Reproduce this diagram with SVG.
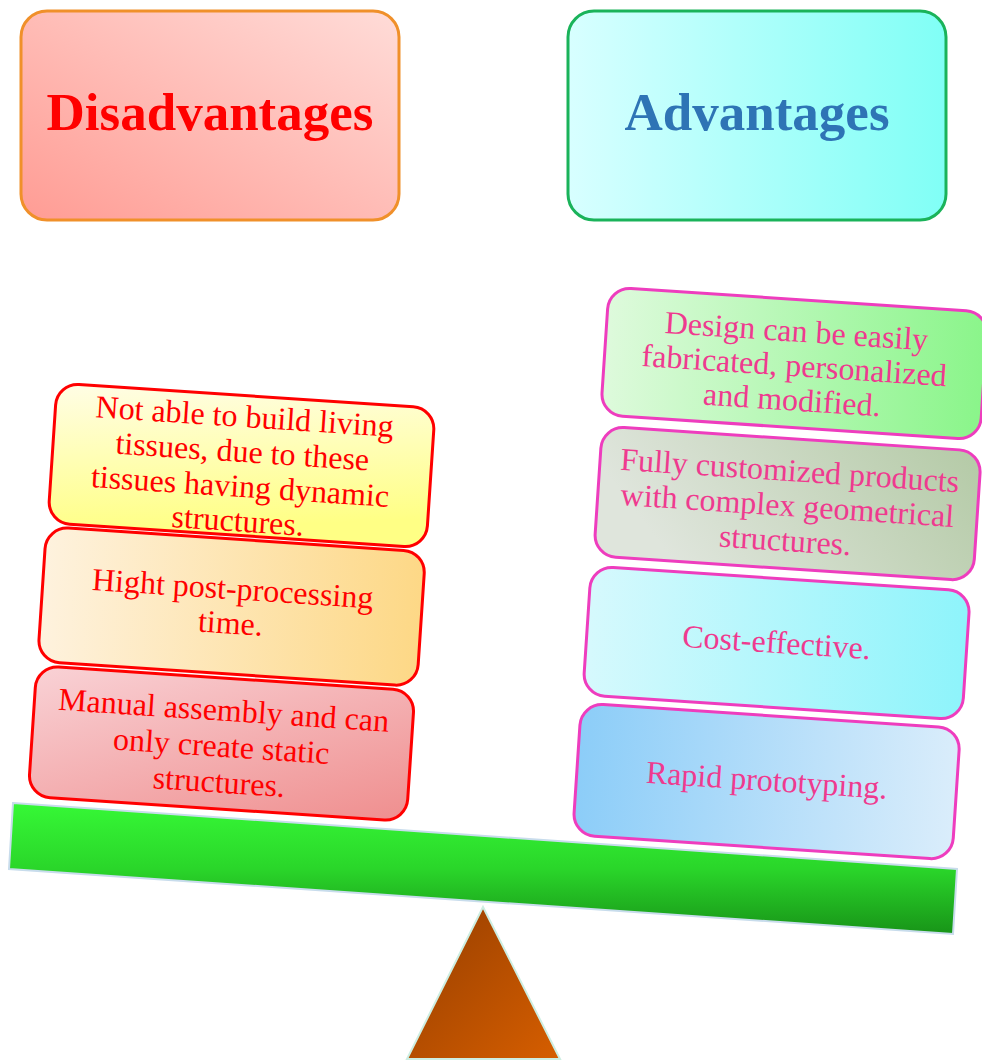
<svg xmlns="http://www.w3.org/2000/svg" width="982" height="1063" viewBox="0 0 982 1063">
<defs>
<linearGradient id="gDis" x1="0" y1="1" x2="1" y2="0"><stop offset="0" stop-color="#ff9c94"/><stop offset="1" stop-color="#ffdcd8"/></linearGradient>
<linearGradient id="gAdv" x1="0" y1="0" x2="1" y2="0"><stop offset="0" stop-color="#d8ffff"/><stop offset="1" stop-color="#80fff6"/></linearGradient>
<linearGradient id="g1" x1="0" y1="0" x2="0.3" y2="1"><stop offset="0" stop-color="#fffde6"/><stop offset="1" stop-color="#ffff85"/></linearGradient>
<linearGradient id="g2" x1="0" y1="0" x2="1" y2="0"><stop offset="0" stop-color="#fef2de"/><stop offset="1" stop-color="#fdd886"/></linearGradient>
<linearGradient id="g3" x1="0" y1="0" x2="1" y2="1"><stop offset="0" stop-color="#f9d2d6"/><stop offset="1" stop-color="#ef8e8e"/></linearGradient>
<linearGradient id="gA" x1="0" y1="0" x2="1" y2="0"><stop offset="0" stop-color="#defadc"/><stop offset="1" stop-color="#8af58a"/></linearGradient>
<linearGradient id="gB" x1="0" y1="0.3" x2="1" y2="0"><stop offset="0" stop-color="#dfe5dc"/><stop offset="1" stop-color="#b4caa6"/></linearGradient>
<linearGradient id="gC" x1="0" y1="0" x2="1" y2="0"><stop offset="0" stop-color="#d6f9fd"/><stop offset="1" stop-color="#8ef4fb"/></linearGradient>
<linearGradient id="gD" x1="0" y1="0" x2="1" y2="0"><stop offset="0" stop-color="#8ccdf8"/><stop offset="1" stop-color="#daedfb"/></linearGradient>
<linearGradient id="gBeam" gradientUnits="userSpaceOnUse" x1="0" y1="803" x2="0" y2="934"><stop offset="0" stop-color="#36f836"/><stop offset="0.5" stop-color="#2ad62a"/><stop offset="1" stop-color="#189418"/></linearGradient>
<linearGradient id="gTri" x1="0" y1="0" x2="1" y2="1"><stop offset="0" stop-color="#953e00"/><stop offset="1" stop-color="#d65e00"/></linearGradient>
<style>
.title{font-family:"Liberation Serif","Times New Roman",serif;font-weight:bold;font-size:53px;text-anchor:middle}
.lt{font-family:"Liberation Serif","Times New Roman",serif;font-size:32px;text-anchor:middle;fill:#ff0000}
.rt{font-family:"Liberation Serif","Times New Roman",serif;font-size:32px;text-anchor:middle;fill:#ef3a8f}
.lb{stroke:#ff0000;stroke-width:3}
.rb{stroke:#ee3dbe;stroke-width:3}
</style>
</defs>
<rect width="982" height="1063" fill="#ffffff"/>

<g id="beam">
<polygon points="13,803 957,869 953,934 9,869" fill="url(#gBeam)" stroke="#c8dcec" stroke-width="2"/>
</g>
<g id="fulcrum">
<polygon points="483,907 560,1059 407,1059" fill="url(#gTri)" stroke="#cdeee2" stroke-width="2"/>
</g>

<g id="disadvantages">
<rect x="21" y="11" width="378" height="209" rx="26" fill="url(#gDis)" stroke="#f0902a" stroke-width="3"/>
<text class="title" x="210" y="130" fill="#ff0000">Disadvantages</text>
</g>
<g id="advantages">
<rect x="568" y="11" width="378" height="209" rx="26" fill="url(#gAdv)" stroke="#1ab35a" stroke-width="3"/>
<text class="title" x="757" y="130" fill="#2e74b5">Advantages</text>
</g>

<g id="dis1" transform="translate(241.5,465.5) rotate(3.8)">
<rect class="lb" x="-189.5" y="-70" width="379" height="140" rx="22" fill="url(#g1)"/>
<text class="lt"><tspan x="0" y="-38.5">Not able to build living</tspan><tspan x="0" y="-3.5">tissues, due to these</tspan><tspan x="0" y="31.5">tissues having dynamic</tspan><tspan x="0" y="66">structures.</tspan></text>
</g>
<g id="dis2" transform="translate(231.6,606.6) rotate(3.8)">
<rect class="lb" x="-190" y="-67.5" width="380" height="135" rx="22" fill="url(#g2)"/>
<text class="lt"><tspan x="0" y="-7.4">Hight post-processing</tspan><tspan x="0" y="27.1">time.</tspan></text>
</g>
<g id="dis3" transform="translate(221.5,743.5) rotate(3.8)">
<rect class="lb" x="-189.5" y="-65.5" width="379" height="131" rx="22" fill="url(#g3)"/>
<text class="lt"><tspan x="0" y="-22.8">Manual assembly and can</tspan><tspan x="0" y="13.2">only create static</tspan><tspan x="0" y="49.2">structures.</tspan></text>
</g>

<g id="advA" transform="translate(794.4,363.5) rotate(3.8)">
<rect class="rb" x="-190" y="-64" width="380" height="128" rx="22" fill="url(#gA)"/>
<text class="rt"><tspan x="0" y="-21.9">Design can be easily</tspan><tspan x="0" y="12.6">fabricated, personalized</tspan><tspan x="0" y="47.1">and modified.</tspan></text>
</g>
<g id="advB" transform="translate(787.6,503.6) rotate(3.8)">
<rect class="rb" x="-190" y="-65" width="380" height="130" rx="22" fill="url(#gB)"/>
<text class="rt"><tspan x="0" y="-22.6">Fully customized products</tspan><tspan x="0" y="12.4">with complex geometrical</tspan><tspan x="0" y="47.5">structures.</tspan></text>
</g>
<g id="advC" transform="translate(776.6,643) rotate(3.8)">
<rect class="rb" x="-190" y="-64.5" width="380" height="129" rx="22" fill="url(#gC)"/>
<text class="rt" x="0" y="10">Cost-effective.</text>
</g>
<g id="advD" transform="translate(766.6,781.6) rotate(3.8)">
<rect class="rb" x="-190" y="-66" width="380" height="132" rx="22" fill="url(#gD)"/>
<text class="rt" x="0" y="9.2">Rapid prototyping.</text>
</g>
</svg>
